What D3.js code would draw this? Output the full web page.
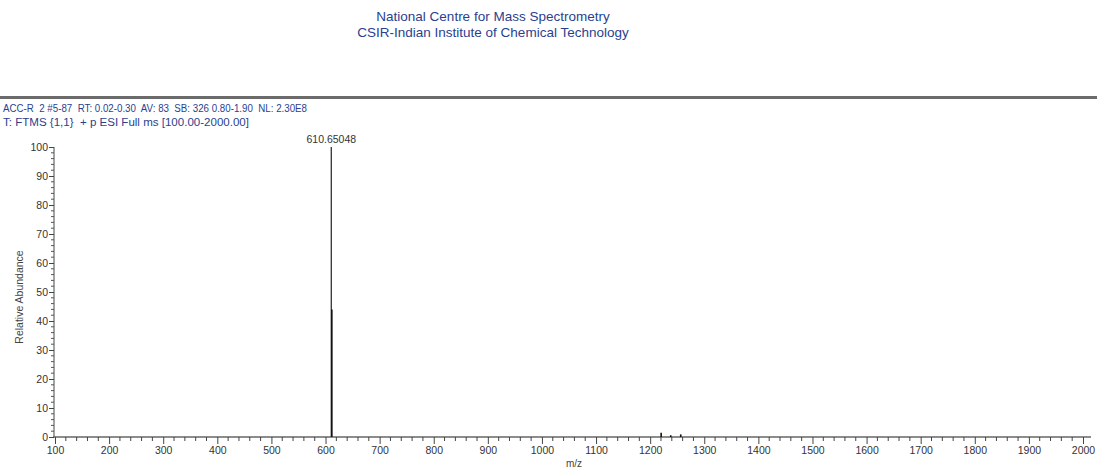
<!DOCTYPE html>
<html>
<head>
<meta charset="utf-8">
<script src="https://cdn.jsdelivr.net/npm/d3@7"></script>
<style>
  html, body { margin: 0; padding: 0; background: #fff; }
  svg { display: block; font-family: "Liberation Sans", Arial, sans-serif; }
</style>
</head>
<body>
<svg id="chart" width="1097" height="471"></svg>
<script>
// Spectrum centroids: m/z and relative abundance (%)
const peakMz = [610.65048, 611.654, 1220.3, 1238.0, 1256.5];
const peakAbundance = [100, 44, 1.5, 0.6, 0.9];
const labelledPeaks = ["610.65048"];
const xTicks = [100, 200, 300, 400, 500, 600, 700, 800, 900, 1000, 1100, 1200, 1300, 1400, 1500, 1600, 1700, 1800, 1900, 2000];
const yTicks = [0, 10, 20, 30, 40, 50, 60, 70, 80, 90, 100];
const headerLines = ["National Centre for Mass Spectrometry", "CSIR-Indian Institute of Chemical Technology"];
const scanLines = ["ACC-R  2 #5-87  RT: 0.02-0.30  AV: 83  SB: 326 0.80-1.90  NL: 2.30E8",
                   "T: FTMS {1,1}  + p ESI Full ms [100.00-2000.00]"];

const svg = d3.select("#chart");
const blue = "#2a3f8f";

// Header
svg.selectAll("text.header").data(headerLines).join("text")
  .attr("class", "header")
  .attr("x", 493).attr("y", (d, i) => 21 + i * 16)
  .attr("text-anchor", "middle")
  .attr("font-size", 13.5)
  .attr("fill", blue)
  .text(d => d);

// Rule under the header
svg.append("rect").attr("x", 0).attr("y", 96).attr("width", 1097).attr("height", 3).attr("fill", "#6b6b6b");

// Scan description
const scanWidths = [304, 246];
svg.selectAll("text.scan").data(scanLines).join("text")
  .attr("class", "scan")
  .attr("x", 3).attr("y", (d, i) => 112 + i * 14)
  .attr("font-size", 10)
  .attr("fill", blue)
  .attr("textLength", (d, i) => scanWidths[i])
  .attr("lengthAdjust", "spacingAndGlyphs")
  .style("white-space", "pre")
  .text(d => d);

// Scales
const x = d3.scaleLinear().domain([100, 2000]).range([55, 1083]);
const y = d3.scaleLinear().domain([0, 100]).range([437, 147]);
const axisColor = "#666";

// X axis line
svg.append("line").attr("x1", x(100) - 2).attr("x2", x(2000) + 8)
  .attr("y1", y(0)).attr("y2", y(0)).attr("stroke", axisColor).attr("stroke-width", 1.3);

const xMinor = d3.range(100, 2001, 20).filter(v => v % 100 !== 0);
svg.append("g").selectAll("line").data(xMinor).join("line")
  .attr("x1", d => x(d)).attr("x2", d => x(d))
  .attr("y1", y(0)).attr("y2", y(0) + 4)
  .attr("stroke", "#444").attr("stroke-width", 1);

const xAxis = d3.axisBottom(x).tickValues(xTicks).tickSize(7).tickPadding(3).tickFormat(d3.format("d"));
const gx = svg.append("g").attr("transform", `translate(0,${y(0)})`).call(xAxis);
gx.select(".domain").remove();
gx.selectAll(".tick line").attr("stroke", "#444");
gx.selectAll(".tick text").attr("font-size", 10.5).attr("fill", "#333")
  .attr("font-family", "'Liberation Sans', Arial, sans-serif");

// Y axis
svg.append("line").attr("x1", x(100) - 1).attr("x2", x(100) - 1)
  .attr("y1", y(0)).attr("y2", y(100)).attr("stroke", axisColor).attr("stroke-width", 1.2);
const yMinor = d3.range(0, 101, 2).filter(v => v % 10 !== 0);
svg.append("g").selectAll("line").data(yMinor).join("line")
  .attr("x1", x(100) - 1).attr("x2", x(100) - 4)
  .attr("y1", d => y(d)).attr("y2", d => y(d))
  .attr("stroke", "#555").attr("stroke-width", 1);
const yAxis = d3.axisLeft(y).tickValues(yTicks).tickSize(5).tickPadding(1);
const gy = svg.append("g").attr("transform", `translate(${x(100) - 1},0)`).call(yAxis);
gy.select(".domain").remove();
gy.selectAll(".tick line").attr("stroke", "#444");
gy.selectAll(".tick text").attr("font-size", 10.5).attr("fill", "#333")
  .attr("font-family", "'Liberation Sans', Arial, sans-serif");

// Axis titles
svg.append("text").attr("transform", `translate(23,${(y(0) + y(100)) / 2 + 5}) rotate(-90)`)
  .attr("text-anchor", "middle").attr("font-size", 10.5).attr("fill", "#444")
  .text("Relative Abundance");
svg.append("text").attr("x", 574).attr("y", 467).attr("text-anchor", "middle")
  .attr("font-size", 10).attr("fill", "#444").text("m/z");

// Stick spectrum
const peaks = peakMz.map((m, i) => ({ mz: m, ab: peakAbundance[i] }));
svg.append("g").selectAll("line").data(peaks).join("line")
  .attr("x1", d => x(d.mz)).attr("x2", d => x(d.mz))
  .attr("y1", y(0)).attr("y2", d => y(d.ab))
  .attr("stroke", (d, i) => i === 0 ? "#333" : "#111")
  .attr("stroke-width", (d, i) => i === 0 ? 1.3 : 1.6);

// Peak label
svg.append("text").attr("x", x(peaks[0].mz)).attr("y", y(peaks[0].ab) - 4)
  .attr("text-anchor", "middle").attr("font-size", 10.5).attr("fill", "#333")
  .text(labelledPeaks[0]);
</script>
</body>
</html>
